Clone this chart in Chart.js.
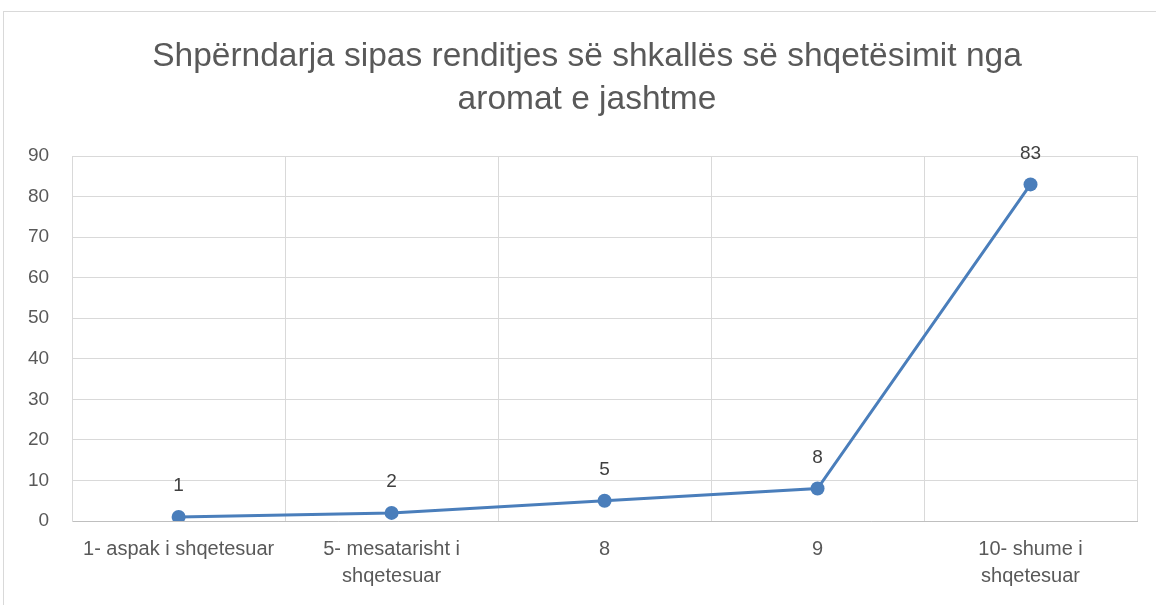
<!DOCTYPE html>
<html>
<head>
<meta charset="utf-8">
<script src="https://cdn.jsdelivr.net/npm/chart.js@4.4.1/dist/chart.umd.min.js"></script>
<style>
  html, body { margin: 0; padding: 0; background: #fff; overflow: hidden; }
  #wrap { position: relative; width: 1156px; height: 605px; }
  #frame { position: absolute; left: 3px; top: 11px; width: 1200px; height: 700px; border: 1px solid #d9d9d9; box-sizing: border-box; }
  canvas { position: absolute; left: 0; top: 0; }
</style>
</head>
<body>
<div id="wrap">
  <div id="frame"></div>
  <canvas id="chart" width="1156" height="605"></canvas>
</div>
<script>
// ================= DATA =================
const titleLines = ["Shpërndarja sipas renditjes së shkallës së shqetësimit nga", "aromat e jashtme"];
const categories = [
  "1- aspak i shqetesuar",
  ["5- mesatarisht i", "shqetesuar"],
  "8",
  "9",
  ["10- shume i", "shqetesuar"]
];
const values = [1, 2, 5, 8, 83];
const yTicks = [0, 10, 20, 30, 40, 50, 60, 70, 80, 90];

const FONT = "'Liberation Sans', Arial, sans-serif";

// ================= TITLE PLUGIN =================
// titulo dibujado a mano para centrarlo como en la imagen
const titlePlugin = {
  id: "titleText",
  beforeDraw(chart) {
    const ctx = chart.ctx;
    ctx.save();
    ctx.font = "33.5px " + FONT;
    ctx.fillStyle = "#595959";
    ctx.textAlign = "center";
    ctx.textBaseline = "middle";
    ctx.fillText(titleLines[0], 587, 57);
    ctx.fillText(titleLines[1], 587, 100);
    ctx.restore();
  }
};

// ================= LABELS PLUGIN =================
const valueLabels = {
  id: "valueLabels",
  afterDatasetsDraw(chart) {
    const ctx = chart.ctx;
    const meta = chart.getDatasetMeta(0);
    ctx.save();
    ctx.font = "19px " + FONT;
    ctx.fillStyle = "#404040";
    ctx.textAlign = "center";
    ctx.textBaseline = "middle";
    meta.data.forEach((pt, i) => {
      ctx.fillText(String(values[i]), pt.x, pt.y - 31);
    });
    ctx.restore();
  }
};

// ================= CHART =================
new Chart(document.getElementById("chart"), {
  type: "line",
  data: {
    labels: categories,
    datasets: [{
      data: values,
      borderColor: "#4a7ebb",
      backgroundColor: "#4a7ebb",
      borderWidth: 3,
      pointRadius: 7,
      pointHoverRadius: 7,
      pointBackgroundColor: "#4a7ebb",
      pointBorderWidth: 0,
      tension: 0
    }]
  },
  plugins: [titlePlugin, valueLabels],
  options: {
    responsive: false,
    animation: false,
    layout: { padding: { left: 5, right: 19, top: 156, bottom: 0 } },
    plugins: {
      legend: { display: false },
      tooltip: { enabled: false },
      title: { display: false }
    },
    scales: {
      x: {
        offset: true,
        grid: { offset: true, color: "#d9d9d9", lineWidth: 1, drawTicks: false },
        border: { color: "#bfbfbf" },
        ticks: {
          color: "#595959",
          font: { family: FONT, size: 20, lineHeight: 1.35 },
          padding: 15,
          maxRotation: 0,
          autoSkip: false
        }
      },
      y: {
        min: 0,
        max: 90,
        afterBuildTicks(axis) { axis.ticks = yTicks.map(v => ({ value: v })); },
        grid: { color: "#d9d9d9", lineWidth: 1, drawTicks: false },
        border: { color: "#d9d9d9" },
        ticks: {
          color: "#595959",
          font: { family: FONT, size: 19 },
          padding: 23
        }
      }
    }
  }
});
</script>
</body>
</html>
